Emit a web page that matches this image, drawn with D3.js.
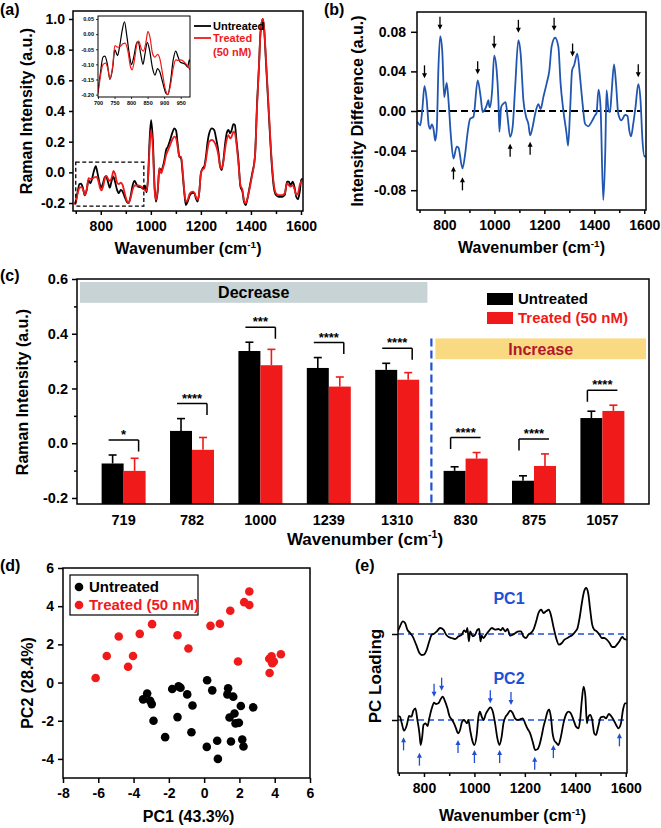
<!DOCTYPE html>
<html><head><meta charset="utf-8">
<script src="https://cdn.jsdelivr.net/npm/d3@7"></script>
<style>
body{margin:0;background:#fff}
svg text{font-family:"Liberation Sans",Arial,sans-serif;font-weight:bold}
</style></head><body><svg id="c" width="661" height="828"></svg>
<script>
// ---------------- DATA ----------------
// (a) mean Raman spectra [wavenumber, intensity]
const spectrumUntreated = [[695,-0.205],[700,-0.191],[707,-0.131],[715,-0.076],[721,-0.073],[728,-0.098],[736,-0.15],[744,-0.114],[751,-0.052],[759,-0.071],[765,-0.043],[773,0.012],[780,0.041],[787,-0.005],[796,-0.076],[801,-0.101],[808,-0.076],[816,-0.032],[821,-0.025],[829,-0.065],[836,-0.1],[842,-0.065],[849,-0.027],[856,-0.054],[865,-0.114],[872,-0.136],[880,-0.114],[887,-0.125],[895,-0.158],[906,-0.197],[911,-0.2],[919,-0.158],[927,-0.087],[935,-0.056],[942,-0.076],[949,-0.093],[957,-0.096],[964,-0.1],[971,-0.109],[976,-0.085],[983,-0.13],[989,-0.03],[995,0.21],[1001,0.34],[1008,0.21],[1015,-0.093],[1021,-0.191],[1028,-0.115],[1034,0.026],[1041,0.015],[1048,0.037],[1054,0.08],[1061,0.146],[1068,0.167],[1077,0.21],[1085,0.254],[1094,0.287],[1101,0.272],[1107,0.189],[1114,0.102],[1121,0.091],[1127,-0.007],[1134,-0.137],[1140,-0.213],[1147,-0.191],[1156,-0.148],[1167,-0.133],[1174,-0.137],[1180,-0.17],[1187,-0.191],[1193,-0.137],[1200,-0.007],[1207,0.026],[1213,0.037],[1220,0.102],[1226,0.189],[1233,0.254],[1244,0.287],[1253,0.276],[1262,0.211],[1270,0.135],[1277,0.037],[1283,0.015],[1290,0.08],[1297,0.189],[1303,0.254],[1310,0.276],[1317,0.254],[1323,0.276],[1330,0.315],[1336,0.309],[1342,0.211],[1350,0.08],[1358,-0.093],[1366,-0.126],[1372,-0.191],[1379,-0.213],[1385,-0.18],[1395,-0.093],[1405,-0.007],[1416,0.102],[1425,0.472],[1432,0.689],[1438,0.907],[1447,1.0],[1452,0.95],[1461,0.689],[1472,0.363],[1482,0.08],[1491,-0.093],[1500,-0.148],[1511,-0.159],[1525,-0.159],[1535,-0.148],[1544,-0.061],[1551,-0.061],[1558,-0.083],[1567,-0.061],[1575,-0.104],[1581,-0.159],[1588,-0.176],[1595,-0.126],[1601,-0.05],[1607,-0.04]];
const spectrumTreated = [[695,-0.21],[700,-0.197],[707,-0.142],[715,-0.101],[723,-0.096],[731,-0.12],[736,-0.147],[744,-0.109],[751,-0.038],[759,-0.043],[767,-0.041],[775,-0.032],[782,-0.03],[790,-0.054],[798,-0.107],[803,-0.118],[810,-0.087],[818,-0.03],[823,-0.023],[831,-0.049],[837,-0.056],[844,-0.032],[851,0.009],[857,-0.01],[865,-0.065],[872,-0.076],[880,-0.067],[887,-0.082],[895,-0.131],[903,-0.18],[911,-0.2],[919,-0.169],[927,-0.114],[935,-0.085],[942,-0.087],[950,-0.085],[957,-0.089],[964,-0.096],[973,-0.109],[976,-0.115],[983,-0.12],[989,-0.04],[995,0.16],[1001,0.275],[1008,0.16],[1015,-0.115],[1021,-0.18],[1028,-0.104],[1034,0.026],[1041,-0.007],[1048,0.026],[1054,0.059],[1061,0.113],[1068,0.141],[1077,0.178],[1085,0.211],[1094,0.233],[1101,0.222],[1107,0.167],[1114,0.102],[1121,0.102],[1127,0.015],[1134,-0.126],[1140,-0.191],[1147,-0.18],[1156,-0.137],[1167,-0.126],[1174,-0.133],[1180,-0.159],[1187,-0.18],[1193,-0.137],[1200,-0.007],[1207,0.02],[1213,0.026],[1220,0.08],[1226,0.146],[1233,0.2],[1244,0.211],[1253,0.2],[1262,0.167],[1270,0.113],[1277,0.037],[1283,0.026],[1290,0.07],[1297,0.157],[1303,0.211],[1310,0.243],[1317,0.222],[1323,0.233],[1330,0.265],[1336,0.254],[1342,0.189],[1350,0.059],[1358,-0.083],[1366,-0.115],[1372,-0.18],[1379,-0.202],[1385,-0.176],[1395,-0.104],[1405,-0.017],[1416,0.102],[1425,0.45],[1432,0.689],[1438,0.907],[1447,1.0],[1452,0.95],[1461,0.711],[1472,0.385],[1482,0.102],[1491,-0.072],[1500,-0.137],[1511,-0.148],[1525,-0.148],[1535,-0.137],[1544,-0.072],[1551,-0.083],[1558,-0.093],[1567,-0.083],[1575,-0.115],[1581,-0.148],[1588,-0.137],[1595,-0.083],[1601,-0.061],[1607,-0.05]];
const insetRange = [700, 978];
const insetBox = {x:[700, 972], y:[-0.22, 0.067]};

// (b) difference spectrum
const difference = [[692,-0.011],[703,-0.0145],[711,0.0007],[720,0.0253],[729,0.011],[737,-0.0145],[743,-0.018],[749,-0.0135],[756,-0.018],[763,-0.03],[769,-0.019],[776,0.045],[783,0.0756],[791,0.061],[799,0.014],[809,0.0284],[816,0.011],[825,-0.023],[836,-0.048],[849,-0.036],[856,-0.037],[872,-0.058],[883,-0.043],[892,-0.023],[903,-0.0078],[916,-0.006],[933,0.031],[945,0.014],[953,-0.001],[963,0.002],[969,0.0057],[976,0.011],[980,0.004],[983,0.004],[991,0.021],[999,0.056],[1009,0.041],[1016,0.011],[1020,-0.021],[1027,0.004],[1036,0.0074],[1045,0.009],[1052,-0.0044],[1063,-0.026],[1073,-0.016],[1083,0.024],[1096,0.0716],[1105,0.058],[1116,0.011],[1127,-0.006],[1136,-0.013],[1143,-0.0246],[1153,-0.016],[1163,-0.003],[1176,0.0068],[1185,0.002],[1196,0.014],[1209,0.0277],[1220,0.041],[1229,0.065],[1243,0.074],[1256,0.065],[1265,0.0277],[1276,0.0007],[1289,-0.023],[1295,-0.035],[1303,0.0007],[1311,0.041],[1319,0.046],[1332,0.058],[1343,0.034],[1353,0.0074],[1363,-0.013],[1376,-0.0155],[1389,-0.011],[1403,-0.0044],[1409,-0.002],[1417,0.0216],[1425,0.004],[1436,-0.09],[1444,-0.04],[1449,0.021],[1457,0.0007],[1463,-0.001],[1469,0.0176],[1479,0.047],[1487,0.0277],[1496,-0.003],[1509,-0.0095],[1523,-0.004],[1533,-0.005],[1540,-0.0196],[1547,-0.0257],[1556,-0.0128],[1565,0.004],[1576,0.027],[1585,0.011],[1593,-0.03],[1601,-0.046],[1605,-0.045]];
const diffArrowsDown = [[720,0.033],[782,0.082],[933,0.037],[999,0.063],[1096,0.079],[1239,0.081],[1313,0.055],[1576,0.034]];
const diffArrowsUp = [[836,-0.056],[872,-0.067],[1063,-0.033],[1143,-0.031]];

// (c) bar chart
const barCategories = ["719","782","1000","1239","1310","830","875","1057"];
const barTrend = ["Decrease","Decrease","Decrease","Decrease","Decrease","Increase","Increase","Increase"];
const untreatedMean = [-0.074,0.045,0.337,0.275,0.268,-0.101,-0.137,0.092];
const untreatedErr = [0.031,0.045,0.032,0.038,0.024,0.015,0.018,0.025];
const treatedMean = [-0.101,-0.024,0.285,0.207,0.232,-0.056,-0.083,0.118];
const treatedErr = [0.046,0.045,0.058,0.035,0.026,0.022,0.044,0.021];
const significance = ["*","****","***","****","****","****","****","****"];
const barYTicks = [-0.2,0.0,0.2,0.4,0.6];
const barYMinor = [-0.1,0.1,0.3,0.5];

// (d) PCA scores
const untreatedPC1 = [0.17,0.46,1.36,1.32,1.65,2.08,2.78,1.44,1.72,1.78,1.97,1.52,2.16,2.23,0.74,0.15,0.78,-0.66,-0.96,-1.34,-1.45,-1.81,-1.51,-0.72,-2.21,-2.87,-3.23,-3.46,-3.06,-2.97];
const untreatedPC2 = [0.12,-0.41,-0.30,-0.62,-0.74,-1.23,-1.30,-1.83,-1.62,-2.14,-2.11,-3.09,-2.98,-3.35,-3.05,-3.37,-4.0,-1.20,-0.62,-0.27,-0.20,-0.34,-1.81,-2.60,-2.86,-2.0,-0.57,-0.88,-0.95,-1.13];
const treatedPC1 = [-6.15,-5.52,-4.84,-4.31,-4.03,-3.65,-2.95,-1.51,-0.89,0.36,0.89,1.48,2.27,2.56,2.56,1.92,3.71,3.69,3.82,3.86,3.95,4.35];
const treatedPC2 = [0.24,1.39,2.41,0.83,1.39,2.55,3.06,2.48,1.78,2.97,3.08,3.76,4.21,4.06,4.77,1.10,0.50,1.25,1.38,1.01,1.10,1.48];

// (e) PC loadings (arbitrary units)
const pc1Loading = [[696,0.08],[705,0.23],[716,0.38],[725,0.33],[734,0.13],[745,0.03],[755,-0.07],[769,-0.32],[782,-0.57],[791,-0.63],[800,-0.62],[811,-0.47],[821,-0.22],[831,-0.02],[840,0.01],[851,0.08],[864,0.18],[877,0.13],[888,-0.02],[898,-0.09],[910,-0.12],[923,-0.15],[937,-0.07],[950,-0.02],[959,0.11],[967,0.05],[972,0.18],[978,-0.22],[983,0.08],[993,-0.07],[1003,-0.02],[1012,0.13],[1019,0.15],[1024,-0.22],[1029,-0.05],[1036,-0.12],[1046,-0.02],[1056,0.08],[1069,0.18],[1082,0.13],[1095,0.15],[1105,0.11],[1112,0.18],[1122,0.08],[1131,0.15],[1142,-0.05],[1152,-0.02],[1163,0.03],[1175,0.08],[1185,0.08],[1194,-0.07],[1205,-0.12],[1214,-0.02],[1224,0.03],[1234,0.13],[1245,0.38],[1254,0.63],[1265,0.73],[1274,0.63],[1284,0.68],[1295,0.73],[1303,0.58],[1313,0.23],[1324,-0.12],[1335,-0.32],[1347,-0.27],[1357,-0.17],[1369,-0.12],[1380,-0.07],[1390,-0.02],[1401,0.08],[1409,0.18],[1417,0.48],[1426,0.93],[1435,1.28],[1443,1.38],[1451,1.23],[1459,0.73],[1467,0.28],[1475,0.13],[1485,0.08],[1496,-0.02],[1505,-0.12],[1515,-0.12],[1525,-0.17],[1536,-0.27],[1546,-0.39],[1556,-0.39],[1565,-0.32],[1575,-0.22],[1586,-0.09],[1594,-0.15],[1604,-0.17]];
const pc2Loading = [[696,0.12],[705,0.10],[712,-0.10],[721,-0.32],[732,-0.15],[741,0.12],[750,0.10],[758,0.28],[766,0.35],[774,0.0],[782,-0.40],[787,-0.75],[793,-0.5],[798,-0.15],[806,-0.10],[814,-0.18],[821,0.05],[831,0.35],[840,0.52],[848,0.48],[857,0.50],[866,0.62],[874,0.70],[884,0.55],[893,0.35],[901,0.12],[910,0.02],[919,-0.10],[927,-0.25],[935,-0.40],[943,-0.30],[951,-0.05],[959,0.0],[970,-0.10],[976,0.0],[983,-0.30],[993,-0.65],[1000,-0.75],[1009,-0.45],[1016,0.10],[1022,0.25],[1029,0.10],[1036,0.0],[1045,0.18],[1054,0.30],[1063,0.38],[1073,0.25],[1082,-0.10],[1091,-0.55],[1099,-0.75],[1108,-0.50],[1115,-0.10],[1124,0.10],[1132,0.18],[1142,0.28],[1151,0.22],[1161,0.05],[1171,0.0],[1181,0.02],[1192,0.05],[1201,-0.10],[1210,-0.25],[1221,-0.40],[1231,-0.65],[1241,-0.90],[1250,-0.88],[1258,-0.75],[1266,-0.50],[1274,-0.20],[1281,0.0],[1290,0.25],[1296,0.32],[1303,0.10],[1310,-0.40],[1316,-0.60],[1324,-0.68],[1333,-0.75],[1343,-0.50],[1353,-0.10],[1364,0.18],[1373,0.25],[1382,0.20],[1393,0.0],[1403,-0.20],[1413,-0.25],[1419,0.0],[1426,0.60],[1433,1.00],[1440,0.70],[1446,-0.10],[1452,0.10],[1459,0.15],[1467,0.0],[1475,-0.40],[1482,-0.45],[1491,-0.20],[1501,0.08],[1512,0.10],[1522,0.05],[1533,0.18],[1542,0.12],[1552,0.0],[1562,-0.15],[1571,-0.25],[1581,-0.10],[1589,0.30],[1597,0.50],[1604,0.50]];
const pc1Offset = 2.58;
const pcArrowsDown = [[840,0.70],[870,0.88],[1063,0.50],[1145,0.45]];
const pcArrowsUp = [[719,-0.52],[782,-0.98],[935,-0.60],[1000,-0.90],[1100,-0.90],[1239,-1.10],[1313,-0.75],[1575,-0.40]];

const wnTicks = [800,1000,1200,1400,1600];
const wnMinorTicks = [700,900,1100,1300,1500];

// ---------------- DRAW ----------------
const RED = "#f01a1a", BLUE = "#2056b0", LBLUE = "#1f4fd6";
const svg = d3.select("#c");
svg.append("rect").attr("width",661).attr("height",828).attr("fill","#fff");

function frame(x0,x1,y0,y1,sw){
  svg.append("rect").attr("x",x0).attr("y",y0).attr("width",x1-x0).attr("height",y1-y0)
    .attr("fill","none").attr("stroke","#000").attr("stroke-width",sw||1.5);
}
function styleAxis(sel, fs, sw){
  sel.select(".domain").remove();
  sel.selectAll(".tick line").attr("stroke","#000").attr("stroke-width",sw||1.5);
  sel.selectAll(".tick text").attr("font-size",fs).attr("fill","#000")
    .attr("font-family","'Liberation Sans',Arial,sans-serif").attr("font-weight","bold");
  return sel;
}
function wnAxis(scale, yb){
  styleAxis(svg.append("g").attr("transform",`translate(0,${yb})`).call(d3.axisBottom(scale).tickValues(wnTicks).tickFormat(d=>String(d)).tickSize(4).tickPadding(6)),14);
  styleAxis(svg.append("g").attr("transform",`translate(0,${yb})`).call(d3.axisBottom(scale).tickValues(wnMinorTicks).tickFormat("").tickSize(3)),14);
}
function wnTitle(x,y,fs){
  const t = svg.append("text").attr("x",x).attr("y",y).attr("text-anchor","middle").attr("font-size",fs);
  t.append("tspan").text("Wavenumber (cm");
  t.append("tspan").attr("dy",-fs*0.4).attr("font-size",fs*0.62).text("-1");
  t.append("tspan").attr("dy",fs*0.4).text(")");
}
function yTitle(x,y,fs,txt){
  svg.append("text").attr("transform",`translate(${x},${y}) rotate(-90)`).attr("text-anchor","middle")
    .attr("dy","0.35em").attr("font-size",fs).text(txt);
}
function panelLabel(x,y,txt){
  svg.append("text").attr("x",x).attr("y",y).attr("font-size",16).text(txt);
}
function clip(id,x0,x1,y0,y1){
  svg.append("clipPath").attr("id",id).append("rect").attr("x",x0).attr("y",y0).attr("width",x1-x0).attr("height",y1-y0);
  return `url(#${id})`;
}
function arrow(g, x, yTip, dir, color, len){
  const yTail = yTip - dir*len;
  g.append("line").attr("x1",x).attr("x2",x).attr("y1",yTail).attr("y2",yTip - dir*3)
    .attr("stroke",color).attr("stroke-width",1.3);
  g.append("path").attr("d",`M${x-2.5},${yTip-dir*5}L${x+2.5},${yTip-dir*5}L${x},${yTip}Z`).attr("fill",color);
}

// ===== Panel (a) =====
const A = {l:73,r:303,t:11,b:211};
const xA = d3.scaleLinear().domain([689,1608]).range([A.l,A.r]);
const yA = d3.scaleLinear().domain([-0.252,1.052]).range([A.b,A.t]);
const lineA = d3.line().x(d=>xA(d[0])).y(d=>yA(d[1])).curve(d3.curveMonotoneX);
const clipA = clip("clipA",A.l,A.r,A.t,A.b);
svg.append("path").datum(spectrumUntreated).attr("d",lineA).attr("fill","none").attr("stroke","#000").attr("stroke-width",1.8).attr("clip-path",clipA);
svg.append("path").datum(spectrumTreated).attr("d",lineA).attr("fill","none").attr("stroke",RED).attr("stroke-width",1.8).attr("clip-path",clipA);
frame(A.l,A.r,A.t,A.b,1.5);
wnAxis(xA, A.b);
styleAxis(svg.append("g").attr("transform",`translate(${A.l},0)`).call(d3.axisLeft(yA).tickValues([-0.2,0,0.2,0.4,0.6,0.8,1.0]).tickFormat(d=>d.toFixed(1)).tickSize(4).tickPadding(4)),14);
svg.append("rect").attr("x",xA(insetBox.x[0])).attr("y",yA(insetBox.y[1]))
  .attr("width",xA(insetBox.x[1])-xA(insetBox.x[0])).attr("height",yA(insetBox.y[0])-yA(insetBox.y[1]))
  .attr("fill","none").attr("stroke","#000").attr("stroke-width",1.3).attr("stroke-dasharray","4,2.5");
// inset
const I = {l:98,r:190,t:16,b:97};
const xI = d3.scaleLinear().domain([700,978]).range([I.l,I.r]);
const yI = d3.scaleLinear().domain([-0.208,0.06]).range([I.b,I.t]);
const lineI = d3.line().x(d=>xI(d[0])).y(d=>yI(d[1])).curve(d3.curveMonotoneX);
const clipI = clip("clipI",I.l,I.r,I.t,I.b);
svg.append("rect").attr("x",I.l).attr("y",I.t).attr("width",I.r-I.l).attr("height",I.b-I.t).attr("fill","#fff");
const inRange = d=>d[0]>=insetRange[0]-1 && d[0]<=insetRange[1]+6;
svg.append("path").datum(spectrumUntreated.filter(inRange)).attr("d",lineI).attr("fill","none").attr("stroke","#000").attr("stroke-width",1.2).attr("clip-path",clipI);
svg.append("path").datum(spectrumTreated.filter(inRange)).attr("d",lineI).attr("fill","none").attr("stroke",RED).attr("stroke-width",1.2).attr("clip-path",clipI);
frame(I.l,I.r,I.t,I.b,1);
styleAxis(svg.append("g").attr("transform",`translate(0,${I.b})`).call(d3.axisBottom(xI).tickValues([700,750,800,850,900,950]).tickFormat(d=>String(d)).tickSize(2).tickPadding(2)),5.5,0.8);
styleAxis(svg.append("g").attr("transform",`translate(${I.l},0)`).call(d3.axisLeft(yI).tickValues([0.05,0,-0.05,-0.1,-0.15,-0.2]).tickFormat(d=>d.toFixed(2)).tickSize(2).tickPadding(2)),5.5,0.8);
// legend (a)
svg.append("line").attr("x1",194).attr("x2",211).attr("y1",26).attr("y2",26).attr("stroke","#000").attr("stroke-width",1.8);
svg.append("line").attr("x1",194).attr("x2",211).attr("y1",38).attr("y2",38).attr("stroke",RED).attr("stroke-width",1.8);
svg.append("text").attr("x",213).attr("y",30).attr("font-size",11).text("Untreated");
svg.append("text").attr("x",213).attr("y",42).attr("font-size",11).attr("fill",RED).text("Treated");
svg.append("text").attr("x",213).attr("y",56).attr("font-size",11).attr("fill",RED).text("(50 nM)");
wnTitle((A.l+A.r)/2,254,16);
yTitle(26,111,16,"Raman Intensity (a.u.)");
panelLabel(0,15,"(a)");

// ===== Panel (b) =====
const B = {l:417,r:646,t:12,b:210};
const xB = d3.scaleLinear().domain([690,1607]).range([B.l,B.r]);
const yB = d3.scaleLinear().domain([-0.1,0.1]).range([B.b,B.t]);
const clipB = clip("clipB",B.l,B.r,B.t,B.b);
svg.append("line").attr("x1",B.l).attr("x2",xB(1585)).attr("y1",yB(0)).attr("y2",yB(0))
  .attr("stroke","#000").attr("stroke-width",1.8).attr("stroke-dasharray","7,4");
svg.append("path").datum(difference).attr("d",d3.line().x(d=>xB(d[0])).y(d=>yB(d[1])).curve(d3.curveMonotoneX))
  .attr("fill","none").attr("stroke",BLUE).attr("stroke-width",1.8).attr("clip-path",clipB);
frame(B.l,B.r,B.t,B.b,1.5);
wnAxis(xB, B.b);
styleAxis(svg.append("g").attr("transform",`translate(${B.l},0)`).call(d3.axisLeft(yB).tickValues([-0.08,-0.04,0,0.04,0.08]).tickFormat(d=>d.toFixed(2)).tickSize(6).tickPadding(5)),14);
const gArrB = svg.append("g");
diffArrowsDown.forEach(d=>arrow(gArrB,xB(d[0]),yB(d[1]),1,"#000",13));
diffArrowsUp.forEach(d=>arrow(gArrB,xB(d[0]),yB(d[1]),-1,"#000",13));
wnTitle((B.l+B.r)/2,253,16);
yTitle(357,111,16,"Intensity Difference (a.u.)");
panelLabel(324,15,"(b)");

// ===== Panel (c) =====
const C = {l:77,r:649,t:279,b:504};
const xC = d3.scaleBand().domain(barCategories).range([C.l,C.r]).paddingInner(0.357).paddingOuter(0.36);
const yC = d3.scaleLinear().domain([-0.222,0.6]).range([C.b,C.t]);
const bw = xC.bandwidth()/2;
const divX = (xC("1310")+xC.bandwidth() + xC("830"))/2;
svg.append("rect").attr("x",C.l+3).attr("y",yC(0.589)).attr("width",divX-4-(C.l+3)).attr("height",yC(0.513)-yC(0.589)).attr("fill","#c8d3d5");
svg.append("text").attr("x",(C.l+3+divX-4)/2).attr("y",yC(0.551)).attr("dy","0.36em").attr("text-anchor","middle").attr("font-size",16).text("Decrease");
svg.append("rect").attr("x",divX+4).attr("y",yC(0.383)).attr("width",C.r-3-(divX+4)).attr("height",yC(0.307)-yC(0.383)).attr("fill","#f9da82");
svg.append("text").attr("x",(divX+4+C.r-3)/2).attr("y",yC(0.345)).attr("dy","0.36em").attr("text-anchor","middle").attr("font-size",16).attr("fill","#b3172d").text("Increase");
svg.append("line").attr("x1",divX).attr("x2",divX).attr("y1",yC(0.383)).attr("y2",C.b).attr("stroke",LBLUE).attr("stroke-width",2.2).attr("stroke-dasharray","8,4");
barCategories.forEach((c,i)=>{
  const x0 = xC(c);
  const series = [[untreatedMean[i],untreatedErr[i],"#000"],[treatedMean[i],treatedErr[i],RED]];
  series.forEach((s,j)=>{
    const bx = x0 + j*bw;
    svg.append("rect").attr("x",bx).attr("y",yC(s[0])).attr("width",bw).attr("height",C.b-yC(s[0])).attr("fill",s[2]);
    const cx = bx+bw/2, yt = yC(s[0]+s[1]);
    svg.append("line").attr("x1",cx).attr("x2",cx).attr("y1",yC(s[0])).attr("y2",yt).attr("stroke",s[2]).attr("stroke-width",1.6);
    svg.append("line").attr("x1",cx-4).attr("x2",cx+4).attr("y1",yt).attr("y2",yt).attr("stroke",s[2]).attr("stroke-width",1.6);
  });
  const top = Math.min(yC(untreatedMean[i]+untreatedErr[i]), yC(treatedMean[i]+treatedErr[i]));
  const ly = top-15, xa = x0+7, xb = x0+xC.bandwidth()-7;
  const dropX = barTrend[i]==="Decrease" ? xb : xa;
  svg.append("path").attr("d",`M${xa},${ly}H${xb}M${dropX},${ly}V${ly+11.5}`).attr("fill","none").attr("stroke","#000").attr("stroke-width",1.5);
  svg.append("text").attr("x",x0+xC.bandwidth()/2).attr("y",ly-1).attr("text-anchor","middle").attr("font-size",13).text(significance[i]);
});
frame(C.l,C.r,C.t,C.b,1.5);
styleAxis(svg.append("g").attr("transform",`translate(0,${C.b})`).call(d3.axisBottom(xC).tickSize(0).tickPadding(11)),14.5);
styleAxis(svg.append("g").attr("transform",`translate(${C.l},0)`).call(d3.axisLeft(yC).tickValues(barYTicks).tickFormat(d=>d.toFixed(1)).tickSize(5).tickPadding(4)),14.5);
svg.append("g").attr("transform",`translate(${C.l},0)`).call(d3.axisLeft(yC).tickValues(barYMinor).tickFormat("").tickSize(3)).call(s=>{s.select(".domain").remove();s.selectAll("line").attr("stroke-width",1.5);});
svg.append("rect").attr("x",487).attr("y",293).attr("width",26).attr("height",12).attr("fill","#000");
svg.append("rect").attr("x",487).attr("y",312).attr("width",26).attr("height",12).attr("fill",RED);
svg.append("text").attr("x",518).attr("y",299).attr("dy","0.36em").attr("font-size",15).text("Untreated");
svg.append("text").attr("x",518).attr("y",318).attr("dy","0.36em").attr("font-size",15).attr("fill",RED).text("Treated (50 nM)");
wnTitle((C.l+C.r)/2+2,545,17);
yTitle(22,392,16,"Raman Intensity (a.u.)");
panelLabel(0,281,"(c)");

// ===== Panel (d) =====
const D = {l:63,r:310,t:568,b:778};
const xD = d3.scaleLinear().domain([-8,6]).range([D.l,D.r]);
const yD = d3.scaleLinear().domain([-5,6]).range([D.b,D.t]);
frame(D.l,D.r,D.t,D.b,1.5);
untreatedPC1.forEach((v,i)=>svg.append("circle").attr("cx",xD(v)).attr("cy",yD(untreatedPC2[i])).attr("r",4.3).attr("fill","#000"));
treatedPC1.forEach((v,i)=>svg.append("circle").attr("cx",xD(v)).attr("cy",yD(treatedPC2[i])).attr("r",4.3).attr("fill",RED));
styleAxis(svg.append("g").attr("transform",`translate(0,${D.b})`).call(d3.axisBottom(xD).tickValues([-8,-6,-4,-2,0,2,4,6]).tickFormat(d=>String(d)).tickSize(5).tickPadding(5)),14);
styleAxis(svg.append("g").attr("transform",`translate(${D.l},0)`).call(d3.axisLeft(yD).tickValues([-4,-2,0,2,4,6]).tickFormat(d=>String(d)).tickSize(5).tickPadding(4)),14);
svg.append("rect").attr("x",70).attr("y",575).attr("width",128).attr("height",40).attr("fill","#fff").attr("stroke","#000").attr("stroke-width",1.2);
svg.append("circle").attr("cx",79).attr("cy",587).attr("r",4.3).attr("fill","#000");
svg.append("circle").attr("cx",79).attr("cy",605).attr("r",4.3).attr("fill",RED);
svg.append("text").attr("x",89).attr("y",587).attr("dy","0.36em").attr("font-size",15).text("Untreated");
svg.append("text").attr("x",89).attr("y",605).attr("dy","0.36em").attr("font-size",15).attr("fill",RED).text("Treated (50 nM)");
svg.append("text").attr("x",(D.l+D.r)/2+2).attr("y",822).attr("text-anchor","middle").attr("font-size",16).text("PC1 (43.3%)");
yTitle(27,683,16,"PC2 (28.4%)");
panelLabel(0,571,"(d)");

// ===== Panel (e) =====
const E = {l:398,r:627,t:574,b:773};
const xE = d3.scaleLinear().domain([697,1605]).range([E.l,E.r]);
const yE = d3.scaleLinear().domain([-1.59,4.38]).range([E.b,E.t]);
const clipE = clip("clipE",E.l,E.r,E.t,E.b);
[pc1Offset,0].forEach(o=>svg.append("line").attr("x1",E.l).attr("x2",E.r).attr("y1",yE(o)).attr("y2",yE(o)).attr("stroke",LBLUE).attr("stroke-width",1.5).attr("stroke-dasharray","6,4"));
const lineE = off => d3.line().x(d=>xE(d[0])).y(d=>yE(d[1]+off)).curve(d3.curveMonotoneX);
svg.append("path").datum(pc1Loading).attr("d",lineE(pc1Offset)).attr("fill","none").attr("stroke","#000").attr("stroke-width",1.8).attr("clip-path",clipE);
svg.append("path").datum(pc2Loading).attr("d",lineE(0)).attr("fill","none").attr("stroke","#000").attr("stroke-width",1.8).attr("clip-path",clipE);
frame(E.l,E.r,E.t,E.b,1.5);
wnAxis(xE, E.b);
styleAxis(svg.append("g").attr("transform",`translate(${E.l},0)`).call(d3.axisLeft(yE).tickValues([0,pc1Offset]).tickFormat("").tickSize(6)),14);
const gArrE = svg.append("g");
pcArrowsDown.forEach(d=>arrow(gArrE,xE(d[0]),yE(d[1]),1,LBLUE,13));
pcArrowsUp.forEach(d=>arrow(gArrE,xE(d[0]),yE(d[1]),-1,LBLUE,13));
svg.append("text").attr("x",509).attr("y",598).attr("dy","0.36em").attr("text-anchor","middle").attr("font-size",16).attr("fill",LBLUE).text("PC1");
svg.append("text").attr("x",509).attr("y",678).attr("dy","0.36em").attr("text-anchor","middle").attr("font-size",16).attr("fill",LBLUE).text("PC2");
wnTitle((E.l+E.r)/2,821,16);
yTitle(375,676,17,"PC Loading");
panelLabel(355,571,"(e)");
</script></body></html>
